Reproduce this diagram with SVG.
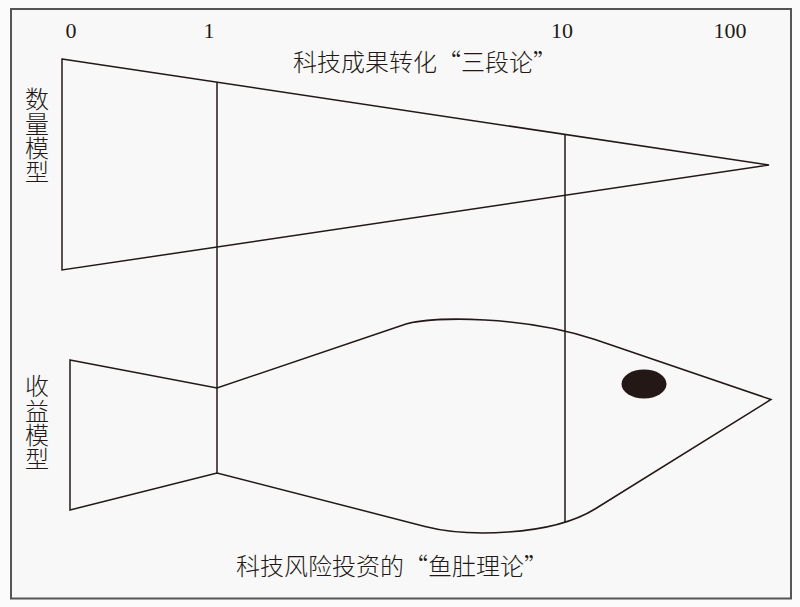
<svg xmlns="http://www.w3.org/2000/svg" width="800" height="607" viewBox="0 0 800 607">
  <style>
    .ln { fill: none; stroke: #231815; stroke-width: 1.5; stroke-linejoin: miter; }
    .num { font-family: "Liberation Serif", serif; font-size: 22px; fill: #231815; text-anchor: middle; }
    .cjk { font-family: "Noto Sans CJK SC", "Noto Sans", sans-serif; font-size: 24px; fill: #231815; font-weight: 300; }
    .vt { writing-mode: vertical-rl; text-orientation: upright; letter-spacing: 0.4px; }
  </style>
  <rect x="0" y="0" width="800" height="607" fill="#fbfbfb"/>
  <g id="frame">
    <rect x="11" y="9" width="780" height="589.5" fill="#f8f8f8" stroke="#555555" stroke-width="2"/>
  </g>
  <g id="axis-labels">
    <text class="num" x="71" y="38">0</text>
    <text class="num" x="209" y="38">1</text>
    <text class="num" x="562" y="38">10</text>
    <text class="num" x="730" y="38">100</text>
  </g>
  <g id="title-top">
    <text class="cjk" x="425" y="71" text-anchor="middle">科技成果转化“三段论”</text>
  </g>
  <g id="label-quantity">
    <text class="cjk vt" x="37" y="87">数量模型</text>
  </g>
  <g id="label-return">
    <text class="cjk vt" x="37" y="374">收益模型</text>
  </g>
  <g id="quantity-model">
    <polygon class="ln" points="62,59 769,165 62,270"/>
  </g>
  <g id="fish">
    <path class="ln" d="M70,360 L217,388 L406,324 C435,316 525,316 595,339.5 L771,399.5 L595,509 C550,536.8 465,536.7 425,526.4 L217,473 L70,510 Z"/>
    <ellipse cx="644" cy="384" rx="22.5" ry="14.5" fill="#231815"/>
  </g>
  <g id="connectors">
    <line class="ln" x1="217" y1="82" x2="217" y2="473"/>
    <line class="ln" x1="565" y1="134.5" x2="565" y2="522"/>
  </g>
  <g id="title-bottom">
    <text class="cjk" x="392" y="575" text-anchor="middle">科技风险投资的“鱼肚理论”</text>
  </g>
</svg>
